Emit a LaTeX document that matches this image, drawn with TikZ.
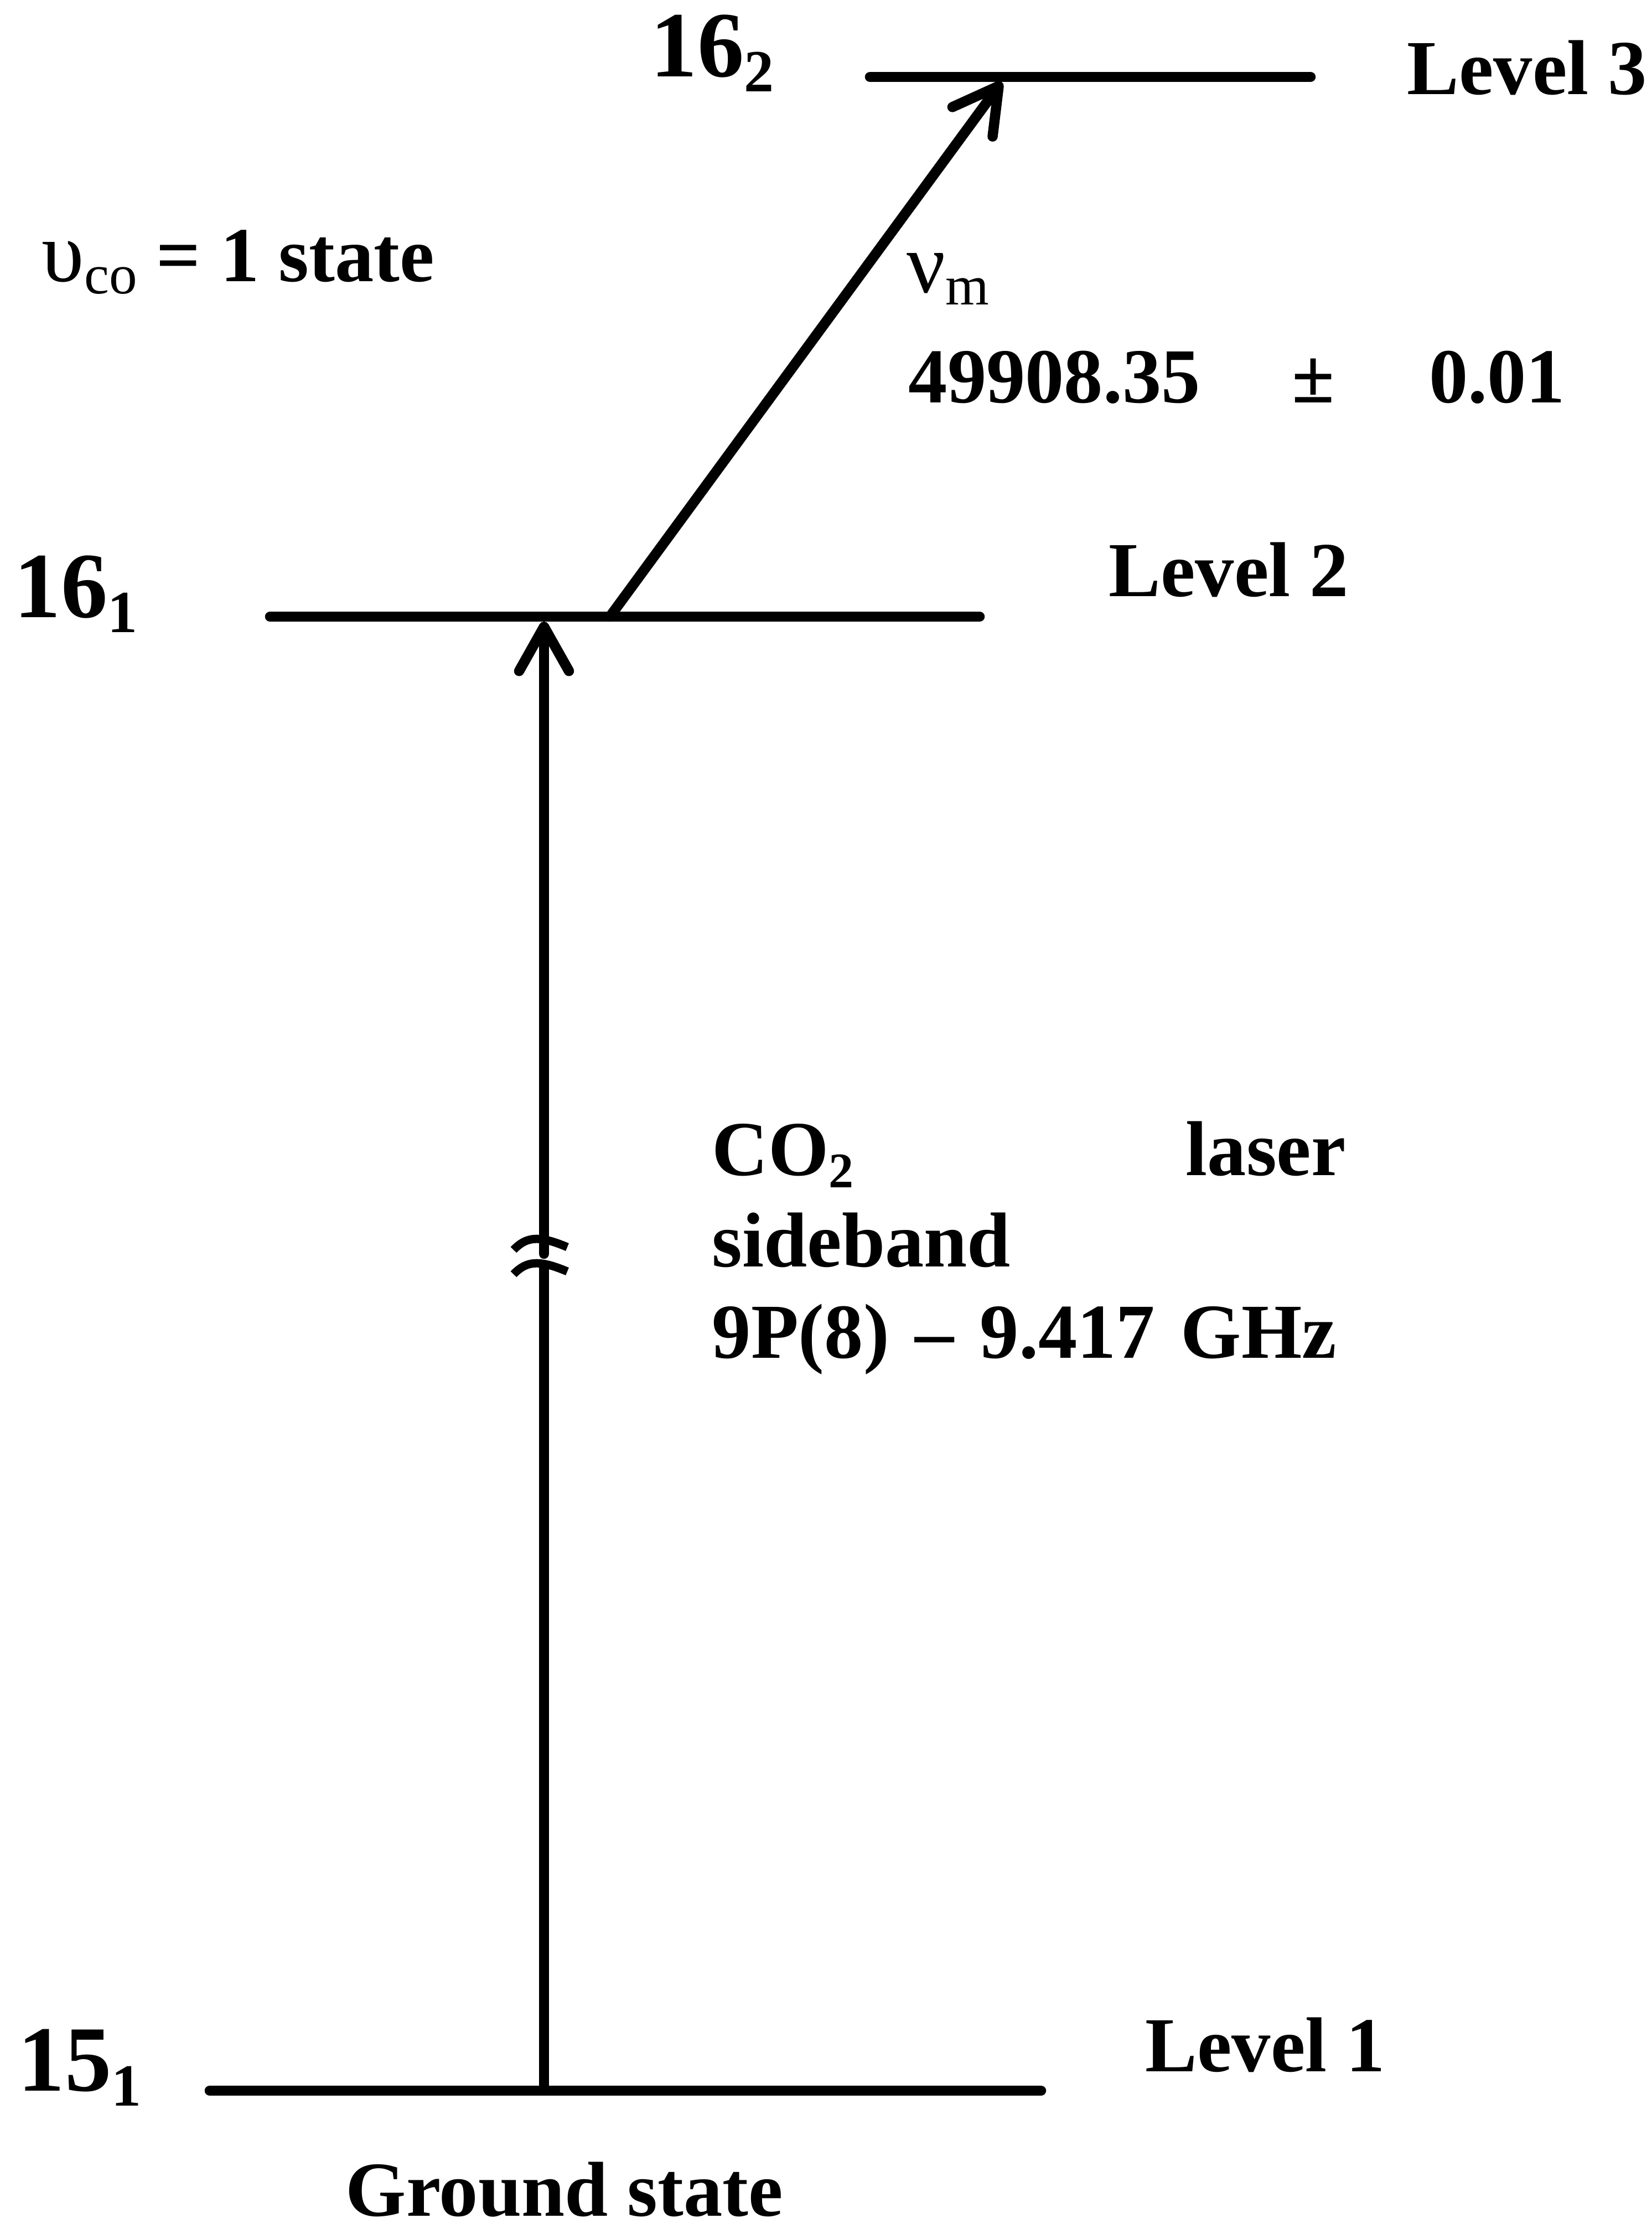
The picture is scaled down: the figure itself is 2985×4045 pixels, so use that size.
\documentclass[tikz,border=0pt]{standalone}
\usepackage{fontspec}
\setmainfont{Liberation Serif}
\usetikzlibrary{arrows.meta}
\newcommand{\lowidx}[1]{\raisebox{-0.16em}{\scalebox{0.64}{#1}}}

\begin{document}
\begin{tikzpicture}[x=0.1mm,y=-0.1mm]
\tikzstyle{level}=[line width=1.85mm,line cap=round]
\tikzstyle{trans}=[line width=1.85mm,line cap=round,-{Straight Barb[length=8mm,width=9mm,line cap=round,line join=round]}]
\tikzstyle{every node}=[inner sep=0pt,anchor=base west,font=\fontsize{40}{47}\selectfont\bfseries]
\tikzstyle{big}=[font=\fontsize{48}{56}\selectfont\bfseries]
\useasboundingbox (0,0) rectangle (2985,4045);
% levels
\coordinate (l3a) at (1572,139);
\coordinate (l3b) at (2368,139);
\coordinate (l2a) at (488,1114);
\coordinate (l2b) at (1770,1114);
\coordinate (l1a) at (379,3777);
\coordinate (l1b) at (1881,3777);
\draw[level] (l3a) -- (l3b);
\draw[level] (l2a) -- (l2b);
\draw[level] (l1a) -- (l1b);
% transitions
\coordinate (up1) at (983,3777);
\coordinate (brklo) at (983,2290);
\coordinate (brkhi) at (983,2265);
\coordinate (up2) at (983,1123);
\coordinate (d1) at (1102,1114);
\coordinate (d2) at (1810,148);
\draw[level,line cap=butt] (up1) -- (brklo);
\draw[trans] (brkhi) -- (up2);
\draw[trans] (d1) -- (d2);
\draw[line width=1.5mm] (928,2258) .. controls (952,2233) and (975,2232) .. (1025,2253);
\draw[line width=1.5mm] (928,2302) .. controls (952,2277) and (975,2276) .. (1025,2297);
% labels
\node[big] (n162) at (1175,138) {16\lowidx{2}};
\node (lev3) at (2542,170) {Level 3};
\node (vco) at (75,508) {{\mdseries\fontsize{44}{50}\selectfont υ}\raisebox{-0.16em}{\scalebox{0.72}{\mdseries co}} = 1 state};
\node (num) at (1638,528) {{\mdseries\fontsize{44}{50}\selectfont ν}\raisebox{-0.16em}{\scalebox{0.72}{\mdseries m}}};
\node (val) at (1641,727) {49908.35\hspace{16.6mm}±\hspace{17mm}0.01};
\node[big] (n161) at (25,1115) {16\lowidx{1}};
\node (lev2) at (2003,1077) {Level 2};
\node[anchor=north west,text width=114.5mm,align=left,font=\fontsize{40}{47}\selectfont\bfseries] (laser) at (1286,2025) {CO\lowidx{2}\hfill laser\\sideband\\9P(8) – 9.417 GHz};
\node[big] (n151) at (32,3777) {15\lowidx{1}};
\node (lev1) at (2069,3742) {Level 1};
\node (gs) at (624,4003) {Ground state};
\end{tikzpicture}
\end{document}
